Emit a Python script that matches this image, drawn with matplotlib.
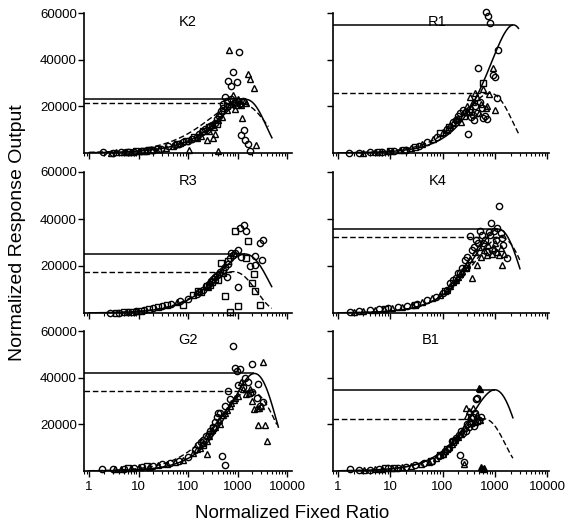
import numpy as np
import matplotlib
matplotlib.use("Agg")
import matplotlib.pyplot as plt
from matplotlib.ticker import LogLocator, NullFormatter, FixedLocator

plt.rcParams['font.family'] = ['Liberation Sans', 'DejaVu Sans']

# ---------------- data ----------------
panel_names = ["K2", "R1", "R3", "K4", "G2", "B1"]

# fitted-curve parameters per panel (order as panel_names)
solid_peak_y = [23000, 54900, 25100, 35700, 41800, 34800]
solid_peak_x = [1450, 2270, 1420, 1170, 2200, 1000]
solid_m = [0.8, 1.0, 1.0, 1.0, 1.0, 1.0]
solid_p = [1.2, 1.0, 0.75, 1.0, 0.9, 1.0]
solid_xend = [4950, 2840, 4900, 3030, 6680, 2220]

dashed_peak_y = [21400, 25600, 17600, 32200, 34400, 22350]
dashed_peak_x = [1100, 811, 823, 1300, 1780, 620]
dashed_m = [0.8, 1.0, 1.0, 1.0, 1.0, 1.0]
dashed_p = [0.65, 0.93, 0.8, 0.8, 0.55, 1.05]
dashed_xend = [4200, 2840, 4900, 3000, 6200, 2220]

# K2
K2_circ_x = [1.9, 3, 4.5, 6, 8, 11, 15, 20, 28, 40, 55, 80, 120, 170, 220, 280, 350, 420, 500, 560, 652, 739, 800, 990, 1087, 900, 1100, 1300, 1161, 1352, 1418, 1652, 1790,
             65, 100, 150, 190, 240, 310, 380, 460, 520, 620, 750, 850, 1000]
K2_circ_y = [300, 200, 400, 500, 600, 800, 1100, 1500, 1900, 2800, 3600, 4600, 6000, 8000, 10500, 11500, 13000, 16000, 19500, 23900, 31000, 28600, 34600, 30400, 43150, 22000, 21000, 22500, 7840, 10000, 5700, 3860, 990,
             4000, 5200, 7000, 9000, 10000, 12000, 14500, 18000, 21000, 22500, 23000, 21500, 22500]
K2_tri_x = [2.8, 3.5, 5, 7, 10, 14, 19, 26, 36, 50, 103, 150, 240, 325, 350, 300, 400, 450, 398, 683, 800, 700, 1000, 1233, 1607, 1790, 2125, 2365, 1500, 1200,
            70, 110, 180, 270, 330, 480, 600, 900, 1100, 1400]
K2_tri_y = [200, 300, 350, 500, 700, 1000, 1300, 1700, 2300, 3000, 1400, 6400, 5700, 6400, 8100, 12000, 14000, 17000, 730, 44300, 24700, 21000, 23000, 15000, 33900, 31700, 27900, 3560, 21500, 20500,
            4300, 6000, 7500, 9500, 11000, 15500, 18500, 19000, 21500, 22500]
K2_sq_x = [6, 9, 13, 18, 25, 60, 90, 130, 200, 260, 380, 600, 950]
K2_sq_y = [450, 650, 900, 1200, 1600, 3800, 5000, 6800, 9500, 11000, 12500, 20000, 20500]

# R1
R1_circ_x = [1.6, 2.5, 4, 7, 12, 20, 35, 50, 80, 120, 160, 200, 250, 303, 350, 450, 484, 560, 680, 753, 811, 938, 1011, 1110, 1170, 400, 600, 700,
             180, 220, 280, 330, 380, 420, 520, 640]
R1_circ_y = [100, 150, 300, 500, 900, 1500, 3000, 4800, 7000, 10500, 13500, 16000, 18500, 8000, 15500, 17000, 36300, 19500, 60560, 58700, 55840, 33430, 32440, 23440, 44140, 14000, 15000, 14500,
             14000, 17000, 17500, 19000, 16500, 20000, 22000, 16000]
R1_tri_x = [3, 5, 9, 15, 25, 40, 65, 100, 140, 180, 230, 335, 418, 500, 680, 789, 938, 1030, 550,
            120, 160, 200, 260, 300, 380, 450, 600, 720]
R1_tri_y = [200, 400, 700, 1100, 2000, 3800, 6000, 9000, 12000, 14500, 13500, 24130, 25590, 17000, 19160, 25290, 36300, 18430, 21000,
            10000, 13000, 15000, 17500, 20000, 22000, 24000, 27500, 20000]
R1_sq_x = [6, 10, 18, 30, 90, 130, 260, 320, 604]
R1_sq_y = [450, 750, 1300, 2600, 8500, 11000, 16000, 17500, 29870]

# R3
R3_circ_x = [2.7, 4, 6, 9, 13, 20, 30, 45, 70, 100, 150, 200, 260, 320, 380, 450, 550, 705, 820, 1040, 1125, 1350, 1480, 1770, 2280, 2280, 2860, 3070, 3340, 1000, 600,
             170, 230, 290, 350, 420, 500, 650, 750, 900, 1200]
R3_circ_y = [100, 200, 500, 800, 1200, 2200, 3000, 3800, 5000, 6000, 8000, 10000, 12500, 14500, 16000, 17500, 19500, 23400, 24550, 26940, 36170, 37570, 34760, 19870, 20550, 24130, 29790, 22680, 31190, 10940, 15500,
             9000, 11500, 13500, 15500, 16500, 18500, 21000, 25500, 25500, 24000]
R3_sq_x = [3.5, 5, 7.5, 11, 16, 25, 38, 80.5, 128, 180, 240, 300, 457, 556, 705, 890, 1000, 1607, 1960, 2130, 2280, 2860, 400,
           160, 280, 350, 500, 650, 1500]
R3_sq_y = [150, 300, 600, 1000, 1500, 2500, 3500, 3530, 7790, 9000, 11500, 13000, 21280, 7100, 400, 34760, 2850, 30770, 12770, 16600, 9230, 3530, 14000,
           9500, 12000, 14500, 17000, 22000, 23500]
R3_tri_x = [9, 60, 250]
R3_tri_y = [700, 4500, 11000]

# K4
K4_circ_x = [1.7, 2.5, 4, 6, 9, 14, 21, 32, 50, 75, 104, 139, 180, 216, 264, 336, 400, 480, 560, 650, 760, 835, 950, 1050, 1222, 1450, 1690, 1300, 900, 700,
             120, 160, 200, 240, 300, 370, 440, 520, 600, 800, 1100, 1400]
K4_circ_y = [550, 800, 1200, 1600, 2000, 2500, 2800, 3800, 5500, 7000, 8400, 12600, 15000, 16900, 22550, 32890, 28000, 30000, 33000, 31000, 34500, 38300, 35000, 31000, 45660, 29060, 23400, 34000, 27000, 26000,
             10000, 14000, 17000, 19000, 24000, 27000, 31000, 35000, 30000, 33000, 36000, 32000]
K4_tri_x = [2, 3, 5, 7.5, 11, 17, 26, 40, 62, 90, 120, 160, 200, 240, 300, 369, 452, 550, 620, 750, 880, 1000, 1100, 1200, 1360, 1500,
            140, 180, 220, 280, 340, 420, 500, 700, 950, 1300]
K4_tri_y = [400, 700, 1100, 1500, 2100, 2600, 3300, 4800, 6300, 7800, 10000, 13000, 15500, 18000, 21000, 14900, 20550, 24000, 27000, 29000, 25000, 30000, 26000, 24500, 20300, 25000,
            11500, 14000, 16500, 19500, 23000, 26000, 28000, 24500, 27500, 27500]
K4_sq_x = [8, 30, 110, 280]
K4_sq_y = [1700, 3500, 9500, 19000]

# G2
G2_circ_x = [1.8, 3, 5, 8, 12, 20, 30, 43, 65, 100, 140, 180, 230, 280, 350, 410, 380, 480, 556, 652, 800, 890, 990, 1125, 1310, 1940, 2440, 2630, 2860, 3330, 1600, 2000,
             160, 200, 260, 320, 450, 550, 700, 1000, 1400, 1800]
G2_circ_y = [860, 700, 900, 1500, 1800, 2100, 2800, 3300, 4200, 6000, 9000, 12500, 15000, 17000, 21000, 24860, 23000, 6300, 2440, 34410, 53440, 44140, 42990, 43840, 36100, 45860, 31290, 37290, 27730, 29570, 38000, 34000,
             11000, 13500, 16000, 19000, 25000, 28000, 31000, 37000, 40000, 33500]
G2_tri_x = [3.35, 4.5, 7, 10, 16, 25, 37, 55, 80, 128, 175, 240, 240, 300, 450, 520, 610, 830, 700, 1000, 1200, 1500, 1800, 2440, 2700, 2200, 2630, 3600, 3990, 3330, 3000,
            150, 200, 270, 350, 420, 560, 750, 900, 1300, 1700, 2000]
G2_tri_y = [860, 700, 1200, 1600, 1900, 2500, 3000, 4000, 4700, 7580, 10000, 7290, 13000, 17500, 20000, 24000, 26140, 30430, 28000, 32000, 38000, 33000, 35000, 27000, 27000, 26500, 19840, 19590, 12990, 46710, 28000,
            9500, 12000, 15000, 19000, 22000, 25000, 29000, 31500, 35000, 33500, 30000]
G2_sq_x = [6, 15, 200, 320]
G2_sq_y = [1100, 2000, 11000, 18500]

# B1
B1_circ_x = [1.7, 2.5, 4, 6, 9, 14, 20, 30, 45, 62, 84, 113, 151, 204, 214, 259, 277, 320, 344, 400, 443, 460, 500, 550, 250, 180,
             100, 130, 170, 230, 300, 380, 420]
B1_circ_y = [700, 500, 600, 1000, 1200, 1500, 1900, 2600, 3300, 4200, 6300, 8400, 12700, 15600, 7000, 3700, 17000, 19000, 22700, 19200, 30900, 31500, 22000, 23000, 16500, 14000,
             7500, 10000, 13500, 17000, 20000, 23000, 25000]
B1_tri_x = [3.15, 5, 7, 11, 17, 25, 38, 55, 75, 100, 130, 170, 230, 259, 276, 296, 320, 380, 420, 520,
            110, 150, 200, 260, 340, 460]
B1_tri_y = [430, 800, 900, 1300, 1700, 2200, 3000, 4000, 5500, 7500, 10500, 13500, 16000, 3200, 27000, 23400, 25600, 27000, 21000, 22000,
            8500, 11500, 14500, 18500, 21500, 24000]
B1_filled_tri_x = [500, 520, 625, 540, 600]
B1_filled_tri_y = [35570, 35000, 1290, 1840, 900]
B1_sq_x = [8, 12, 60, 90, 120, 160, 350, 450]
B1_sq_y = [1100, 1400, 4500, 7000, 9500, 12500, 20500, 21500]

scatter_sets = {
    "K2": [(K2_circ_x, K2_circ_y, 'o', 'none'), (K2_tri_x, K2_tri_y, '^', 'none'), (K2_sq_x, K2_sq_y, 's', 'none')],
    "R1": [(R1_circ_x, R1_circ_y, 'o', 'none'), (R1_tri_x, R1_tri_y, '^', 'none'), (R1_sq_x, R1_sq_y, 's', 'none')],
    "R3": [(R3_circ_x, R3_circ_y, 'o', 'none'), (R3_sq_x, R3_sq_y, 's', 'none'), (R3_tri_x, R3_tri_y, '^', 'none')],
    "K4": [(K4_circ_x, K4_circ_y, 'o', 'none'), (K4_tri_x, K4_tri_y, '^', 'none'), (K4_sq_x, K4_sq_y, 's', 'none')],
    "G2": [(G2_circ_x, G2_circ_y, 'o', 'none'), (G2_tri_x, G2_tri_y, '^', 'none'), (G2_sq_x, G2_sq_y, 's', 'none')],
    "B1": [(B1_circ_x, B1_circ_y, 'o', 'none'), (B1_tri_x, B1_tri_y, '^', 'none'), (B1_sq_x, B1_sq_y, 's', 'none'),
           (B1_filled_tri_x, B1_filled_tri_y, '^', 'black')],
}

y_ticks = [20000, 40000, 60000]
x_ticks = [1, 10, 100, 1000, 10000]
x_tick_labels = ["1", "10", "100", "1000", "10000"]
title_x = [100, 80, 100, 80, 100, 60]


def model(x, P, b, m, p):
    r = np.asarray(x) / b
    return P * r ** m * np.exp((m / p) * (1.0 - r ** p))


# ---------------- figure ----------------
W, H = 570, 529
fig = plt.figure(figsize=(W / 100, H / 100), dpi=100)

col_x = [84 / W, 333 / W]
col_w = [(292 - 84) / W, (549 - 333) / W]
row_y = [(H - 153) / H, (H - 313) / H, (H - 471) / H]
row_h = [140 / H, 141 / H, 140 / H]
col_xlim = [(0.79, 12600), (0.80, 10900)]

for i, name in enumerate(panel_names):
    r, c = divmod(i, 2)
    ax = fig.add_axes([col_x[c], row_y[r], col_w[c], row_h[r]])
    xmin, xmax = col_xlim[c]
    ax.set_xscale('log')
    ax.set_xlim(xmin, xmax)
    ax.set_ylim(0, 60000)

    # fitted curves
    xs = np.geomspace(1, solid_xend[i], 300)
    ax.plot(xs, model(xs, solid_peak_y[i], solid_peak_x[i], solid_m[i], solid_p[i]),
            color='black', lw=1.1, zorder=3)
    xd = np.geomspace(1, dashed_xend[i], 300)
    ax.plot(xd, model(xd, dashed_peak_y[i], dashed_peak_x[i], dashed_m[i], dashed_p[i]),
            color='black', lw=1.0, ls=(0, (4, 2)), zorder=3)
    ax.hlines(solid_peak_y[i], xmin, solid_peak_x[i], color='black', lw=1.1, zorder=3)
    ax.hlines(dashed_peak_y[i], xmin, dashed_peak_x[i], color='black', lw=1.0,
              linestyles=[(0, (4, 2))], zorder=3)

    for xv, yv, mk, fc in scatter_sets[name]:
        ms = 4.0 if mk == 's' else 4.5
        ax.plot(xv, yv, ls='none', marker=mk, ms=ms, mfc=fc, mec='black', mew=1.0,
                clip_on=False, zorder=4)

    ax.text(title_x[i], 0.935, name, transform=ax.get_xaxis_transform(),
            ha='center', va='center', fontsize=10.5)

    for s in ['top', 'right']:
        ax.spines[s].set_visible(False)
    ax.spines['left'].set_linewidth(1.2)
    ax.spines['bottom'].set_linewidth(1.2)

    ax.yaxis.set_major_locator(FixedLocator(y_ticks))
    ax.tick_params(axis='y', direction='out', length=4, width=1.0, labelsize=9.5, pad=1)
    if c == 0:
        ax.set_yticklabels([str(v) for v in y_ticks])
    else:
        ax.set_yticklabels([])

    ax.xaxis.set_major_locator(FixedLocator(x_ticks))
    ax.xaxis.set_minor_locator(LogLocator(base=10, subs=np.arange(2, 10)))
    ax.xaxis.set_minor_formatter(NullFormatter())
    ax.tick_params(axis='x', which='major', direction='out', length=4, width=1.0, labelsize=9.5, pad=3)
    ax.tick_params(axis='x', which='minor', direction='out', length=2.5, width=0.8)
    if r == 2:
        ax.set_xticklabels(x_tick_labels)
    else:
        ax.set_xticklabels([])

fig.text(18 / W, 1 - 233 / H, "Normalized Response Output", rotation=90,
         ha='center', va='center', fontsize=14)
fig.text(292 / W, 1 - 513 / H, "Normalized Fixed Ratio", ha='center', va='center', fontsize=13.5)

fig.savefig("out.png", dpi=100)
